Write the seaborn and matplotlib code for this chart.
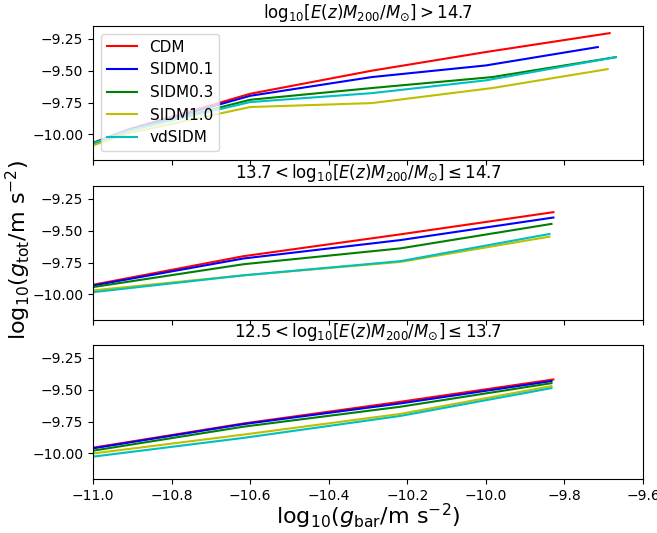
import numpy as np
import pandas as pd
import matplotlib
matplotlib.use("Agg")
import matplotlib.pyplot as plt
import seaborn as sns

models = ["CDM", "SIDM0.1", "SIDM0.3", "SIDM1.0", "vdSIDM"]
colors = {"CDM": "r", "SIDM0.1": "b", "SIDM0.3": "g", "SIDM1.0": "y", "vdSIDM": "c"}

titles = [
    r"$\mathrm{log}_{10}[E(z)M_{200}/M_{\odot}] > 14.7$",
    r"$13.7 < \mathrm{log}_{10}[E(z)M_{200}/M_{\odot}] \leq 14.7$",
    r"$12.5 < \mathrm{log}_{10}[E(z)M_{200}/M_{\odot}] \leq 13.7$",
]

# Panel 1: high mass
hi_x = {
    "CDM":     [-11.0, -10.91, -10.60, -10.29, -10.00, -9.685],
    "SIDM0.1": [-11.0, -10.91, -10.60, -10.29, -10.00, -9.715],
    "SIDM0.3": [-11.0, -10.91, -10.60, -10.29, -9.983, -9.669],
    "SIDM1.0": [-11.0, -10.91, -10.60, -10.29, -9.983, -9.690],
    "vdSIDM":  [-11.0, -10.91, -10.60, -10.29, -10.00, -9.669],
}
hi_y = {
    "CDM":     [-10.065, -9.960, -9.681, -9.500, -9.354, -9.206],
    "SIDM0.1": [-10.070, -9.965, -9.697, -9.550, -9.459, -9.315],
    "SIDM0.3": [-10.070, -9.970, -9.728, -9.636, -9.550, -9.394],
    "SIDM1.0": [-10.085, -9.990, -9.785, -9.754, -9.636, -9.488],
    "vdSIDM":  [-10.070, -9.970, -9.746, -9.676, -9.576, -9.394],
}

# Panel 2: intermediate mass
mid_x = {
    "CDM":     [-11.0, -10.617, -10.218, -9.828],
    "SIDM0.1": [-11.0, -10.617, -10.218, -9.828],
    "SIDM0.3": [-11.0, -10.617, -10.218, -9.833],
    "SIDM1.0": [-11.0, -10.617, -10.218, -9.838],
    "vdSIDM":  [-11.0, -10.617, -10.218, -9.838],
}
mid_y = {
    "CDM":     [-9.924, -9.700, -9.529, -9.355],
    "SIDM0.1": [-9.930, -9.718, -9.574, -9.397],
    "SIDM0.3": [-9.942, -9.763, -9.639, -9.447],
    "SIDM1.0": [-9.968, -9.850, -9.745, -9.547],
    "vdSIDM":  [-9.982, -9.850, -9.739, -9.526],
}

# Panel 3: low mass
lo_x = {
    "CDM":     [-11.0, -10.617, -10.218, -9.828],
    "SIDM0.1": [-11.0, -10.617, -10.218, -9.833],
    "SIDM0.3": [-11.0, -10.617, -10.218, -9.833],
    "SIDM1.0": [-11.0, -10.617, -10.218, -9.833],
    "vdSIDM":  [-11.0, -10.617, -10.218, -9.833],
}
lo_y = {
    "CDM":     [-9.955, -9.765, -9.595, -9.420],
    "SIDM0.1": [-9.960, -9.770, -9.608, -9.433],
    "SIDM0.3": [-9.978, -9.790, -9.634, -9.449],
    "SIDM1.0": [-10.000, -9.852, -9.690, -9.472],
    "vdSIDM":  [-10.025, -9.878, -9.706, -9.488],
}

xticks = [-11.0, -10.8, -10.6, -10.4, -10.2, -10.0, -9.8, -9.6]
yticks = [-10.0, -9.75, -9.5, -9.25]

panels = [(hi_x, hi_y), (mid_x, mid_y), (lo_x, lo_y)]

fig = plt.figure(figsize=(6.57, 5.33), dpi=100)
left, width, height = 93 / 657, 550 / 657, 134 / 533
bottoms = [1 - 160 / 533, 1 - 320 / 533, 1 - 479 / 533]
axes = [fig.add_axes([left, b, width, height]) for b in bottoms]

for i, (ax, (px, py), title) in enumerate(zip(axes, panels, titles)):
    rows = []
    for m in models:
        for xv, yv in zip(px[m], py[m]):
            rows.append({"x": xv, "y": yv, "model": m})
    df = pd.DataFrame(rows)
    sns.lineplot(data=df, x="x", y="y", hue="model", hue_order=models,
                 palette=colors, sort=False, estimator=None, ax=ax,
                 legend=(i == 0), linewidth=1.5)
    ax.set_xlim(-11.0, -9.6)
    ax.set_ylim(-10.2, -9.15)
    ax.set_xticks(xticks)
    ax.set_yticks(yticks)
    ax.set_title(title, fontsize=12)
    ax.set_xlabel("")
    ax.set_ylabel("")
    if i < 2:
        ax.set_xticklabels([])
    else:
        ax.set_xticklabels([f"{t:.1f}".replace("-", "\u2212") for t in xticks])
    ax.tick_params(labelsize=10)

sns.move_legend(axes[0], "upper left", title=None, fontsize=11)

fig.text(368 / 657, 1 - 516 / 533, r"$\mathrm{log}_{10}(g_{\rm bar}/{\rm m\ s^{-2}})$",
         ha="center", va="center", fontsize=16)
fig.text(18 / 657, 1 - 250 / 533, r"$\mathrm{log}_{10}(g_{\rm tot}/{\rm m\ s^{-2}})$",
         ha="center", va="center", rotation=90, fontsize=16)

fig.savefig("out.png", dpi=100)
